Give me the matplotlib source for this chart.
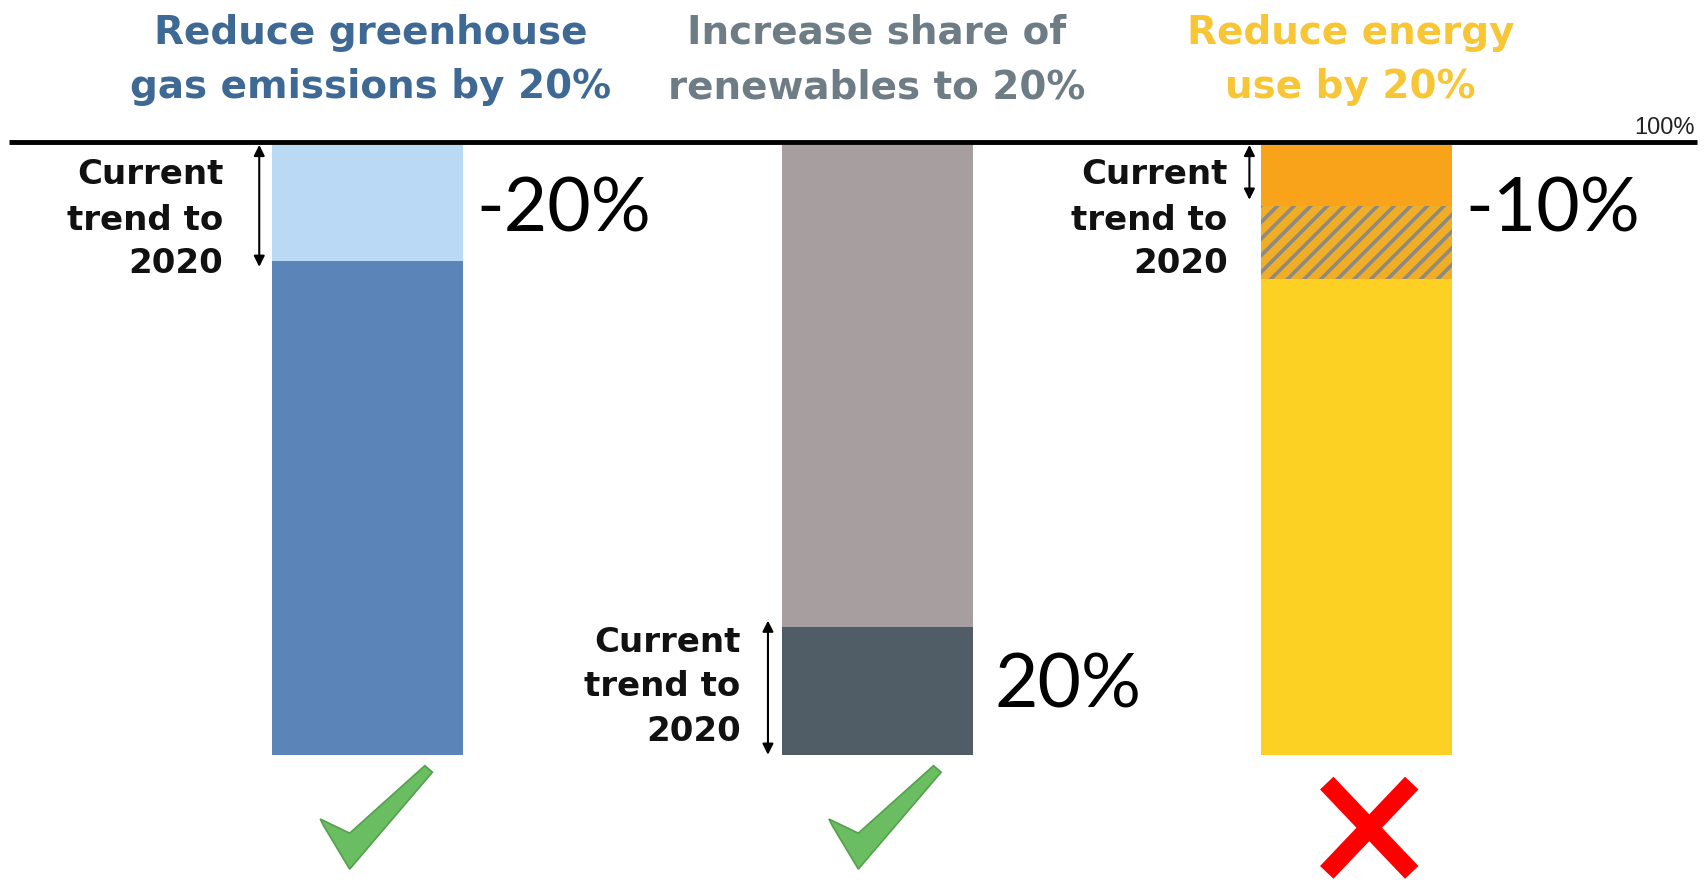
import matplotlib
matplotlib.use("Agg")
import matplotlib.pyplot as plt
from matplotlib.patches import Polygon
import numpy as np

# ---- data ----
categories = ["Reduce greenhouse\ngas emissions by 20%",
              "Increase share of\nrenewables to 20%",
              "Reduce energy\nuse by 20%"]
# stacked segments (bottom -> top), in % of 2005 level
bar1_segments = [81, 19]        # remaining emissions, reduction by current trend
bar2_segments = [21, 79]        # renewables share by trend, rest
bar3_segments = [78, 12, 10]    # remaining use, gap to target, reduction by trend
big_labels = ["-20%", "20%", "-10%"]
trend_label = "Current\ntrend to\n2020"
status = ["ok", "ok", "fail"]

# ---- layout (x in px of 1568-wide view, y in % units) ----
plt.rcParams['hatch.linewidth'] = 2.6
fig = plt.figure(figsize=(17.08, 8.92), dpi=100)
ax = fig.add_axes([0, 0, 1, 1])
ax.set_xlim(0, 1568)
ax.set_ylim(-22.5, 123.75)
ax.axis('off')

def yv(ydisp):
    return (693 - ydisp) / 5.6

xc = [337.5, 805.5, 1245.5]
bw = 175

# bar 1
b1c = ['#5B84B8', '#BAD9F5']
bot = 0
for v, c in zip(bar1_segments, b1c):
    ax.bar(xc[0], v, bw, bottom=bot, color=c, linewidth=0)
    bot += v
# bar 2
b2c = ['#505C66', '#A69E9F']
bot = 0
for v, c in zip(bar2_segments, b2c):
    ax.bar(xc[1], v, bw, bottom=bot, color=c, linewidth=0)
    bot += v
# bar 3
bot = 0
ax.bar(xc[2], bar3_segments[0], bw, bottom=bot, color='#FCD124', linewidth=0)
bot += bar3_segments[0]
ax.bar(xc[2], bar3_segments[1], bw, bottom=bot, facecolor='#EFAE26',
       edgecolor='#8F8A80', hatch='//', linewidth=0)
bot += bar3_segments[1]
ax.bar(xc[2], bar3_segments[2], bw, bottom=bot, color='#F9A31B', linewidth=0)

# 100% line
ax.plot([8, 1558], [100.5, 100.5], color='black', lw=3.5, solid_capstyle='butt')
ax.text(1556, 100.9, "100%", ha='right', va='bottom', fontsize=17,
        family='Liberation Sans', color='#222222')

# titles
tcol = ['#3D6994', '#6E7C85', '#F8C635']
tfont = dict(family='DejaVu Sans', weight='bold', fontsize=28)
for x, t, c in zip([340, 805, 1240], categories, tcol):
    l1, l2 = t.split("\n")
    ax.text(x, yv(30), l1, ha='center', va='center', color=c, **tfont)
    ax.text(x, yv(80), l2, ha='center', va='center', color=c, **tfont)

# "Current trend to 2020" labels
lfont = dict(family='DejaVu Sans', weight='bold', fontsize=24.5, color='#111111')
label_pos = [(205, [160, 202, 242]), (680, [590, 630, 672]), (1127, [160, 202, 242])]
for (xr, ys) in label_pos:
    for line, y in zip(trend_label.split("\n"), ys):
        ax.text(xr, yv(y), line, ha='right', va='center', **lfont)

# arrows
def arrow(x, y0, y1):
    ax.annotate('', xy=(x, y1), xytext=(x, y0),
                arrowprops=dict(arrowstyle='<|-|>', color='black', lw=1.5,
                                mutation_scale=16, shrinkA=0, shrinkB=0))
arrow(238, 100, bar1_segments[0] - 1)
arrow(705, 0, bar2_segments[0] + 1)
arrow(1147, 100, 100 - bar3_segments[2] + 1)

# big percentage labels
bfont = dict(family='Lato', weight='normal', fontsize=54, color='black')
ax.text(437, yv(193), big_labels[0], ha='left', va='center', **bfont)
ax.text(913, yv(630), big_labels[1], ha='left', va='center', **bfont)
ax.text(1345, yv(193), big_labels[2], ha='left', va='center', **bfont)

# check marks and cross
def check(cx):
    pts = np.array([(294, 752), (321, 765), (390, 703), (397, 709),
                    (321, 798), (297, 758)], float)
    pts[:, 0] += cx - 345
    ax.add_patch(Polygon([(x, yv(y)) for x, y in pts], closed=True,
                         facecolor='#6ABD60', edgecolor='#55A04E', lw=1.2))

def cross(cx):
    cy = 760
    t = 8.5
    for sgn in (1, -1):
        x0, y0 = cx - 39, cy - 41 * sgn
        x1, y1 = cx + 39, cy + 41 * sgn
        d = np.array([x1 - x0, y1 - y0], float)
        n = np.array([-d[1], d[0]]) / np.hypot(*d)
        p = [(x0 + n[0] * t, y0 + n[1] * t), (x1 + n[0] * t, y1 + n[1] * t),
             (x1 - n[0] * t, y1 - n[1] * t), (x0 - n[0] * t, y0 - n[1] * t)]
        ax.add_patch(Polygon([(x, yv(y)) for x, y in p], closed=True,
                             facecolor='#FF0000', edgecolor='none'))

for x, s in zip([345, 812, 1257], status):
    if s == "ok":
        check(x)
    else:
        cross(x)

fig.savefig("out.png", dpi=100, facecolor='white')
